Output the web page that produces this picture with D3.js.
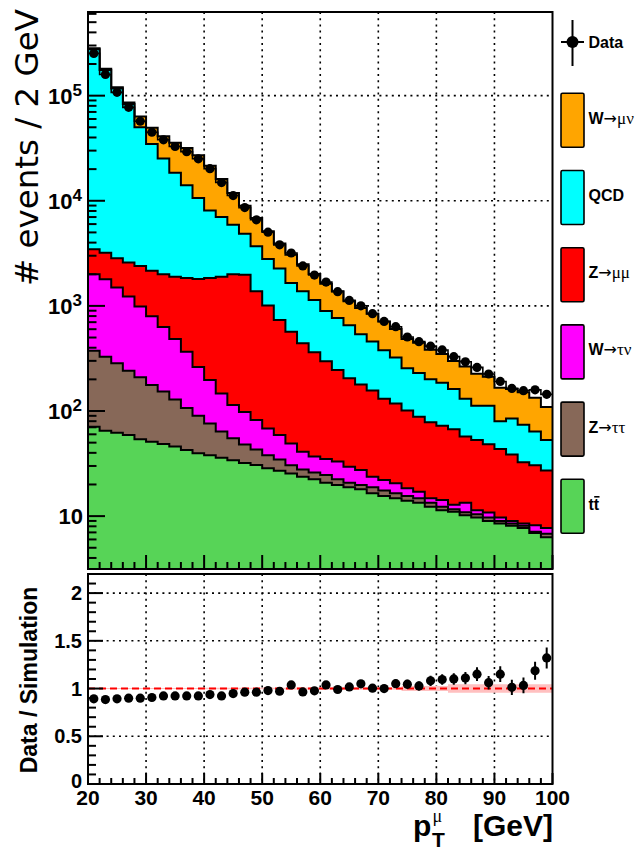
<!DOCTYPE html>
<html>
<head>
<meta charset="utf-8">
<script src="https://cdn.jsdelivr.net/npm/d3@7"></script>
<style>
  body { margin: 0; background: #fff; }
  text { font-family: "Liberation Sans", Arial, sans-serif; }
</style>
</head>
<body>
<svg id="chart" width="641" height="850"></svg>
<script>
// ---- muon pT spectrum: bins of 2 GeV, lower edges ----
const binLow = [20,22,24,26,28,30,32,34,36,38,40,42,44,46,48,50,52,54,56,58,
                60,62,64,66,68,70,72,74,76,78,80,82,84,86,88,90,92,94,96,98];
const binWidth = 2;

// simulated contributions (events / bin), stacked bottom to top
const ttbar   = [71,65,62,59,54,51,48.5,46,42.6,39.6,38,36,34,32,30.6,28.5,27,25.5,23.7,22.4,
                 20.8,19.8,18.8,18.0,16.5,15.5,14.8,14.0,13.4,12.3,11.4,11.0,10.2,9.7,9.0,8.5,8.1,7.7,6.9,6.3];
const ztautau = [304,264,222,183,155,126,104.5,83,64.4,50.4,38,28,21,16,12.4,9.5,7.5,5,4,3.6,
                 3.8,2.6,2.0,1.8,2.3,2.0,1.7,1.5,1.4,1.1,0.9,0.6,0.7,0.7,0.7,0.5,0.4,0.4,0.2,0.5];
const wtaunu  = [1620,1461,1211,985,776,619,476,356,259,172,121,83,59,50,39,30,24.5,18.5,13.3,11,
                 10.4,10.6,8.7,7.7,4.9,4.6,4.0,2.9,2.3,1.4,1.9,1.2,2.5,1.0,1.1,0.7,0.5,0.4,1.1,0.9];
const zmumu   = [1465,1410,1350,1363,1408,1364,1366,1404,1479,1538,1644,1750,1881,1879,1298,939,677,519,401,326,
                 263,212,175.5,151.5,133.3,108.9,97.5,82.6,70.9,63.2,58.2,54.2,43.9,41.6,37.4,33.8,29.6,24.0,22.3,19.4];
const qcd     = [272540,172200,114055,80510,47707,32440,23305,16561,12185,8840,6249,5118,3905,2873,2310,1793,1529,1082,938,772,
                 598,521,449,358,302,247,205,154,142,122,113.6,95,73.7,59,63.8,36.5,46.4,41.5,33.5,25.9];
const wmunu   = [7100,4500,3600,3000,13400,14950,15910,17110,17670,16520,13490,9125,5930,4100,3165,2340,1653,1419,1109,879,
                 726,614,455,418,382,333,280,229,215,183,162,137,134,114,100,86,77,77,70,56];

// observed events per bin
const dataCounts = [252500,159200,107500,77400,57100,44900,38040,32820,29260,25070,20220,14900,11210,8610,6595,5030,3808,3186,2402,1966,
                    1684,1366,1128,1002,844,711,634,506,457,414,381,329,294,260,225,191,164,156,159,144];

// relative statistical uncertainty of the total simulation
const mcRelErr = [0.005,0.005,0.005,0.005,0.005,0.005,0.005,0.005,0.005,0.005,0.008,0.008,0.008,0.008,0.008,0.008,0.008,
                  0.012,0.012,0.012,0.012,0.012,0.012,0.012,0.012,0.012,0.012,
                  0.026,0.026,0.026,0.026,0.044,0.044,0.044,0.044,0.044,0.044,0.044,0.044,0.044];

const sampleKeys   = ["tt", "ztautau", "wtaunu", "zmumu", "qcd", "wmunu"];
const sampleValues = [ttbar, ztautau, wtaunu, zmumu, qcd, wmunu];
const sampleColors = ["#57d457", "#876858", "#ff00ff", "#ff0000", "#00ffff", "#ffa500"];
// legend entries, top to bottom: [bold part, greek part]
const legendKeys   = ["wmunu", "qcd", "zmumu", "wtaunu", "ztautau", "tt"];
const legendLabels = [["W", "\u03bc\u03bd"], ["QCD", ""], ["Z", "\u03bc\u03bc"],
                      ["W", "\u03c4\u03bd"], ["Z", "\u03c4\u03c4"], ["tt", ""]];

const xTickValues     = [20,30,40,50,60,70,80,90,100];
const logTickValues   = [10,100,1000,10000,100000];
const ratioTickValues = [0,0.5,1,1.5,2];

// ---- geometry ----
const X0 = 88, X1 = 552.5;
const TY0 = 12, TY1 = 569;
const RY0 = 574, RY1 = 784;

const svg = d3.select("#chart");
const x  = d3.scaleLinear().domain([20, 100]).range([X0, X1]);
const y  = d3.scaleLog().domain([3.14, 6.25e5]).range([TY1, TY0]);
const yr = d3.scaleLinear().domain([0, 2.2]).range([RY1, RY0]);

// rows for the stack
const rows = binLow.map((lo, i) => {
  const r = { lo };
  sampleKeys.forEach((k, j) => r[k] = sampleValues[j][i]);
  return r;
});
const stacked = d3.stack().keys(sampleKeys)(rows);
const totalMC = rows.map((r, i) => stacked[stacked.length - 1][i][1]);
const ratio = dataCounts.map((d, i) => d / totalMC[i]);

const defs = svg.append("defs");
defs.append("clipPath").attr("id", "clipTop")
  .append("rect").attr("x", X0).attr("y", TY0).attr("width", X1 - X0).attr("height", TY1 - TY0);
defs.append("clipPath").attr("id", "clipRat")
  .append("rect").attr("x", X0).attr("y", RY0).attr("width", X1 - X0).attr("height", RY1 - RY0);

const dotted = g => g.attr("stroke", "#000").attr("stroke-width", 1.6).attr("stroke-dasharray", "2,4.2");

// ================= upper panel =================
const upper = svg.append("g");
const gridTop = upper.append("g");
xTickValues.filter(v => v > 20 && v < 100).forEach(v =>
  gridTop.append("line").attr("x1", x(v)).attr("x2", x(v)).attr("y1", TY0).attr("y2", TY1).call(dotted));
logTickValues.forEach(v =>
  gridTop.append("line").attr("x1", X0).attr("x2", X1).attr("y1", y(v)).attr("y2", y(v)).call(dotted));

// step points of a binned series
const stepPts = vals => {
  const pts = [];
  vals.forEach((v, i) => { pts.push([binLow[i], v]); pts.push([binLow[i] + binWidth, v]); });
  return pts;
};

const histG = upper.append("g").attr("clip-path", "url(#clipTop)");
const area = d3.area().x(d => x(d[0])).y0(TY1 + 3).y1(d => y(d[1]));
const line = d3.line().x(d => x(d[0])).y(d => y(d[1]));
// cumulative histograms from the top layer down, each filled from the axis
for (let j = stacked.length - 1; j >= 0; j--) {
  const cum = stacked[j].map(d => d[1]);
  const pts = stepPts(cum);
  histG.append("path").attr("d", area(pts)).attr("fill", sampleColors[j]);
  histG.append("path").attr("d", line(pts)).attr("fill", "none")
    .attr("stroke", "#000").attr("stroke-width", 2).attr("stroke-linejoin", "miter");
}

// data: step outline, error bars and markers
const dataG = upper.append("g").attr("clip-path", "url(#clipTop)");
dataG.append("path").attr("d", line(stepPts(dataCounts))).attr("fill", "none")
  .attr("stroke", "#000").attr("stroke-width", 1.6);
dataCounts.forEach((d, i) => {
  const cx = x(binLow[i] + binWidth / 2);
  const e = Math.sqrt(d);
  dataG.append("line").attr("x1", cx).attr("x2", cx).attr("y1", y(d - e)).attr("y2", y(d + e))
    .attr("stroke", "#000").attr("stroke-width", 2);
  dataG.append("circle").attr("cx", cx).attr("cy", y(d)).attr("r", 4.6).attr("fill", "#000");
});

// frame
upper.append("rect").attr("x", X0).attr("y", TY0).attr("width", X1 - X0).attr("height", TY1 - TY0)
  .attr("fill", "none").attr("stroke", "#000").attr("stroke-width", 2);

// left log-axis ticks (inward)
y.ticks().forEach(v => {
  const lg = Math.log10(v);
  const major = Math.abs(lg - Math.round(lg)) < 1e-9;
  upper.append("line").attr("x1", X0).attr("x2", X0 + (major ? 17 : 8.5))
    .attr("y1", y(v)).attr("y2", y(v)).attr("stroke", "#000").attr("stroke-width", 2);
});
// bottom ticks (inward)
x.ticks(40).forEach(v => {
  const major = v % 10 === 0;
  upper.append("line").attr("x1", x(v)).attr("x2", x(v))
    .attr("y1", TY1).attr("y2", TY1 - (major ? 14 : 7)).attr("stroke", "#000").attr("stroke-width", 2);
});

// log-axis labels
logTickValues.forEach(v => {
  const p = Math.round(Math.log10(v));
  const t = upper.append("text").attr("font-weight", "bold").attr("font-size", 22)
    .attr("text-anchor", "end").attr("y", y(v) + 8);
  if (p === 1) {
    t.attr("x", 83).text("10");
  } else {
    t.attr("x", 82).text("10");
    t.append("tspan").attr("font-size", 17).attr("dy", -8).text(p);
  }
});

// y title
svg.append("text").attr("transform", "translate(38,9) rotate(-90)")
  .attr("text-anchor", "end").attr("font-size", 32.5)
  .style("font-family", "'DejaVu Sans', sans-serif")
  .text("# events / 2 GeV");

// ================= ratio panel =================
const rat = svg.append("g");
xTickValues.filter(v => v > 20 && v < 100).forEach(v =>
  rat.append("line").attr("x1", x(v)).attr("x2", x(v)).attr("y1", RY0).attr("y2", RY1).call(dotted));
[0.5, 1.5, 2].forEach(v =>
  rat.append("line").attr("x1", X0).attr("x2", X1).attr("y1", yr(v)).attr("y2", yr(v)).call(dotted));

const ratG = rat.append("g").attr("clip-path", "url(#clipRat)");
// simulation uncertainty band
const band = d3.area().x(d => x(d[0])).y0(d => yr(1 - d[1])).y1(d => yr(1 + d[1]));
ratG.append("path").attr("d", band(stepPts(mcRelErr))).attr("fill", "#ffc0c0");
ratG.append("line").attr("x1", X0).attr("x2", X1).attr("y1", yr(1)).attr("y2", yr(1))
  .attr("stroke", "#ff0000").attr("stroke-width", 2).attr("stroke-dasharray", "7,4");

ratio.forEach((r, i) => {
  const cx = x(binLow[i] + binWidth / 2);
  const e = r / Math.sqrt(dataCounts[i]);
  ratG.append("line").attr("x1", cx).attr("x2", cx).attr("y1", yr(r - e)).attr("y2", yr(r + e))
    .attr("stroke", "#000").attr("stroke-width", 2);
  ratG.append("circle").attr("cx", cx).attr("cy", yr(r)).attr("r", 4.6).attr("fill", "#000");
});

rat.append("rect").attr("x", X0).attr("y", RY0).attr("width", X1 - X0).attr("height", RY1 - RY0)
  .attr("fill", "none").attr("stroke", "#000").attr("stroke-width", 2);

yr.ticks(22).forEach(v => {
  const major = Math.abs(v * 2 - Math.round(v * 2)) < 1e-6;
  rat.append("line").attr("x1", X0).attr("x2", X0 + (major ? 15 : 8))
    .attr("y1", yr(v)).attr("y2", yr(v)).attr("stroke", "#000").attr("stroke-width", 2);
});
x.ticks(40).forEach(v => {
  const major = v % 10 === 0;
  rat.append("line").attr("x1", x(v)).attr("x2", x(v))
    .attr("y1", RY1).attr("y2", RY1 - (major ? 11 : 6)).attr("stroke", "#000").attr("stroke-width", 2);
});

ratioTickValues.forEach(v => {
  rat.append("text").attr("x", 82).attr("y", yr(v) + (v === 0 ? 4 : 7)).attr("text-anchor", "end")
    .attr("font-weight", "bold").attr("font-size", 20).text(d3.format("")(v));
});
xTickValues.forEach(v => {
  rat.append("text").attr("x", x(v)).attr("y", 805).attr("text-anchor", "middle")
    .attr("font-weight", "bold").attr("font-size", 21).text(v);
});

svg.append("text").attr("transform", "translate(37,680) rotate(-90)")
  .attr("text-anchor", "middle").attr("font-weight", "bold").attr("font-size", 23)
  .text("Data / Simulation");

// x title: p_T^mu [GeV]
const xt = svg.append("g");
xt.append("text").attr("x", 413).attr("y", 836).attr("font-weight", "bold").attr("font-size", 30).text("p");
xt.append("text").attr("x", 432).attr("y", 847).attr("font-weight", "bold").attr("font-size", 21).text("T");
xt.append("text").attr("x", 432.5).attr("y", 822).attr("font-size", 18)
  .style("font-family", "'Liberation Serif', serif").text("\u03bc");
xt.append("text").attr("x", 553).attr("y", 836).attr("text-anchor", "end")
  .attr("font-weight", "bold").attr("font-size", 30).text("[GeV]");

// ================= legend =================
const leg = svg.append("g");
leg.append("line").attr("x1", 572.5).attr("x2", 572.5).attr("y1", 20).attr("y2", 66)
  .attr("stroke", "#000").attr("stroke-width", 2);
leg.append("line").attr("x1", 561).attr("x2", 584).attr("y1", 42).attr("y2", 42)
  .attr("stroke", "#000").attr("stroke-width", 2);
leg.append("circle").attr("cx", 572.5).attr("cy", 42).attr("r", 6).attr("fill", "#000");
leg.append("text").attr("x", 588.5).attr("y", 47.5).attr("font-weight", "bold").attr("font-size", 16).text("Data");

legendKeys.forEach((k, i) => {
  const j = sampleKeys.indexOf(k);
  const by = 93.3 + i * 77.2;
  leg.append("rect").attr("x", 561).attr("y", by).attr("width", 23).attr("height", 54)
    .attr("rx", 1.5).attr("fill", sampleColors[j]).attr("stroke", "#000").attr("stroke-width", 1.6);
  const t = leg.append("text").attr("x", 588.5).attr("y", by + 30.5).attr("font-size", 16);
  t.append("tspan").attr("font-weight", "bold").text(legendLabels[i][0]);
  if (legendLabels[i][1]) {
    t.append("tspan").style("font-family", "'DejaVu Sans', sans-serif").attr("font-size", 16)
      .attr("font-weight", "normal").text("\u2192");
    t.append("tspan").style("font-family", "'Liberation Serif', serif").attr("font-size", 17)
      .text(legendLabels[i][1]);
  }
  if (k === "tt") {
    // bar over the second t
    leg.append("line").attr("x1", 594.2).attr("x2", 599.5).attr("y1", by + 17.5).attr("y2", by + 17.5)
      .attr("stroke", "#000").attr("stroke-width", 1.6);
  }
});
</script>
</body>
</html>
